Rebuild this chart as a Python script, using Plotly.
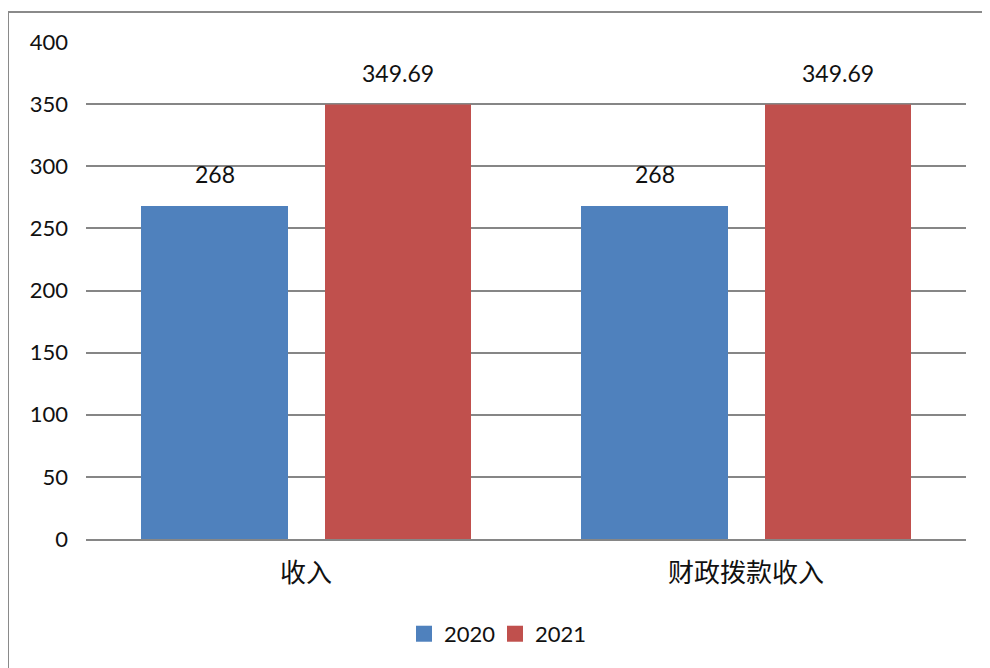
import plotly.graph_objects as go

categories = ["收入", "财政拨款收入"]
series_names = ["2020", "2021"]
values_2020 = [268, 268]
values_2021 = [349.69, 349.69]
label_2020 = ["268", "268"]
label_2021 = ["349.69", "349.69"]
y_ticks = [0, 50, 100, 150, 200, 250, 300, 350, 400]

BLUE = "#4F81BD"
RED = "#C0504D"
GRID = "#868686"
NUM_FONT = "Lato, Open Sans, sans-serif"
CJK_FONT = "Noto Sans CJK SC, sans-serif"

# page has 8px default body margin; figure sized to fit
W, H = 982, 660
L, R, T, B = 78, 24, 34, 129
PW = W - L - R   # 880
PH = H - T - B   # 497

fig = go.Figure()
fig.add_trace(go.Bar(x=categories, y=values_2020, name=series_names[0],
                     width=147 / 440, offset=-165 / 440, showlegend=False,
                     marker=dict(color=BLUE, line=dict(width=0))))
fig.add_trace(go.Bar(x=categories, y=values_2021, name=series_names[1],
                     width=146 / 440, offset=19 / 440, showlegend=False,
                     marker=dict(color=RED, line=dict(width=0))))
# legend entries (square keys like the reference)
fig.add_trace(go.Scatter(x=[None], y=[None], mode="markers", name=series_names[0],
                         legend="legend",
                         marker=dict(symbol="square", size=16, color=BLUE)))
fig.add_trace(go.Scatter(x=[None], y=[None], mode="markers", name=series_names[1],
                         legend="legend2",
                         marker=dict(symbol="square", size=16, color=RED)))

for cat, v, t in zip(categories, values_2020, label_2020):
    fig.add_annotation(x=cat, y=v, text=t, showarrow=False, xshift=-91.5, yshift=32,
                       font=dict(family=NUM_FONT, size=23, color="#111"))
for cat, v, t in zip(categories, values_2021, label_2021):
    fig.add_annotation(x=cat, y=v, text=t, showarrow=False, xshift=92, yshift=32,
                       font=dict(family=NUM_FONT, size=23, color="#111"))

fig.add_shape(type="rect", xref="paper", yref="paper",
              x0=(0 - L) / PW, x1=1.2, y0=-0.4, y1=(PH + T - 4) / PH,
              line=dict(color="#8a8a8a", width=2), fillcolor="rgba(0,0,0,0)", layer="below")

leg_common = dict(orientation="h", y=-0.191, yanchor="middle", xanchor="left",
                  font=dict(family=NUM_FONT, size=22, color="#111"),
                  itemwidth=30, itemsizing="trace", bgcolor="rgba(0,0,0,0)")

fig.update_layout(
    width=W, height=H,
    margin=dict(l=L, r=R, t=T, b=B),
    paper_bgcolor="white", plot_bgcolor="white",
    barmode="overlay",
    showlegend=True,
    legend=dict(x=(396 - L) / PW, **leg_common),
    legend2=dict(x=(487 - L) / PW, **leg_common),
    xaxis=dict(showgrid=False, showline=True, linecolor=GRID, linewidth=2,
               ticks="", tickfont=dict(family=CJK_FONT, size=26, color="#111"),
               ticklabelstandoff=10),
    yaxis=dict(range=[0, 400], tickvals=y_ticks, showgrid=True, gridcolor=GRID, gridwidth=2,
               zeroline=False, showline=False, ticks="",
               tickfont=dict(family=NUM_FONT, size=22, color="#111"),
               ticklabelstandoff=17),
)

fig.write_html("out.html")
